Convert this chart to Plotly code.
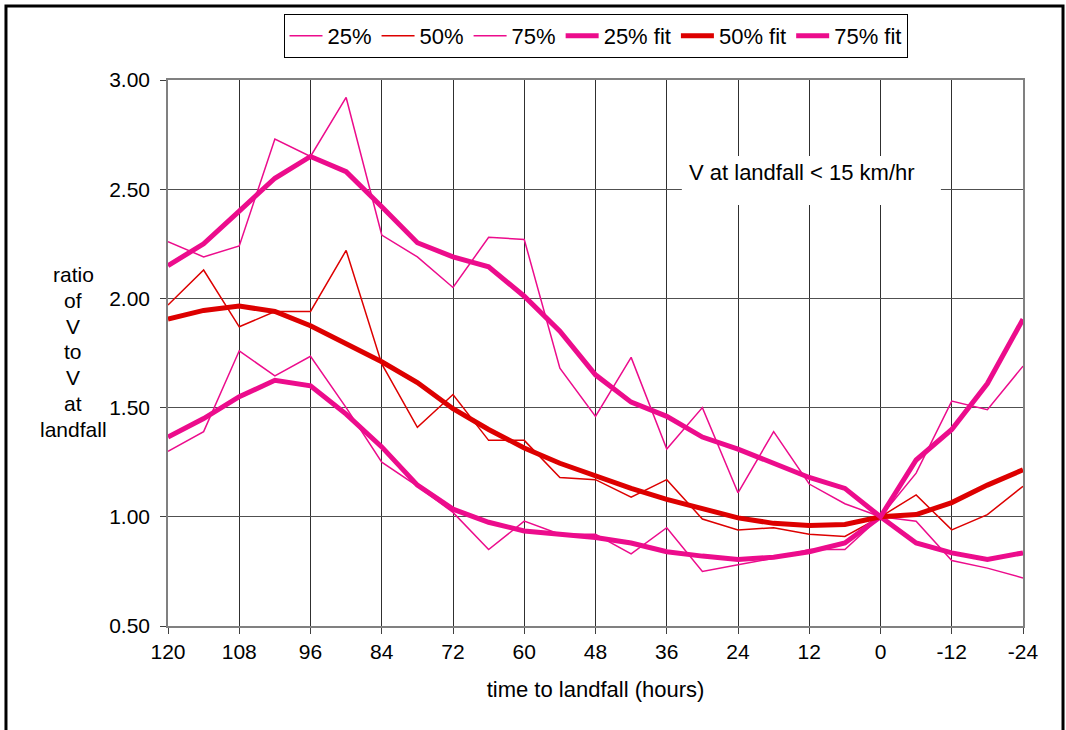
import plotly.graph_objects as go

# Hours before landfall (positive) and after (negative), every 6 hours
hours = [120, 114, 108, 102, 96, 90, 84, 78, 72, 66, 60, 54, 48, 42, 36,
         30, 24, 18, 12, 6, 0, -6, -12, -18, -24]

# Percentile ratios of V to V at landfall
p25 = [1.30, 1.39, 1.76, 1.645, 1.735, 1.50, 1.25, 1.14, 1.02, 0.85, 0.98, 0.92, 0.92,
       0.83, 0.95, 0.75, 0.78, 0.81, 0.85, 0.85, 1.00, 0.98, 0.80, 0.765, 0.72]
p50 = [1.97, 2.13, 1.87, 1.94, 1.94, 2.22, 1.70, 1.41, 1.56, 1.35, 1.35, 1.18, 1.17,
       1.09, 1.17, 0.99, 0.94, 0.95, 0.92, 0.91, 1.00, 1.10, 0.94, 1.01, 1.14]
p75 = [2.26, 2.19, 2.24, 2.73, 2.65, 2.92, 2.29, 2.19, 2.05, 2.28, 2.27, 1.68, 1.46,
       1.73, 1.31, 1.50, 1.11, 1.39, 1.15, 1.06, 1.00, 1.20, 1.53, 1.49, 1.69]

# Smoothed fits
f25 = [1.365, 1.45, 1.55, 1.625, 1.60, 1.47, 1.32, 1.145, 1.035, 0.975, 0.935, 0.92, 0.905,
       0.88, 0.84, 0.82, 0.805, 0.815, 0.84, 0.88, 1.00, 0.88, 0.835, 0.805, 0.835]
f50 = [1.905, 1.945, 1.965, 1.94, 1.875, 1.795, 1.71, 1.615, 1.495, 1.40, 1.315, 1.245, 1.185,
       1.13, 1.08, 1.035, 0.995, 0.97, 0.96, 0.965, 1.00, 1.01, 1.065, 1.145, 1.215]
f75 = [2.15, 2.25, 2.40, 2.55, 2.65, 2.58, 2.42, 2.255, 2.19, 2.145, 2.01, 1.85, 1.65,
       1.525, 1.46, 1.365, 1.31, 1.245, 1.18, 1.13, 1.00, 1.26, 1.40, 1.61, 1.905]

x_ticks = [120, 108, 96, 84, 72, 60, 48, 36, 24, 12, 0, -12, -24]
y_ticks = [0.5, 1.0, 1.5, 2.0, 2.5, 3.0]
y_title_lines = ["ratio", "of", "V", "to", "V", "at", "landfall"]

PINK = "#EC0C8C"
RED = "#DD0000"
FONT = "Liberation Sans, Arial, sans-serif"

series = [
    ("25%", p25, PINK, 1.5),
    ("50%", p50, RED, 1.5),
    ("75%", p75, PINK, 1.5),
    ("25% fit", f25, PINK, 5),
    ("50% fit", f50, RED, 5),
    ("75% fit", f75, PINK, 5),
]

fig = go.Figure()
for name, vals, color, width in series:
    fig.add_trace(go.Scatter(
        x=hours, y=vals, name=name, mode="lines",
        line=dict(color=color, width=width),
    ))

fig.update_layout(
    width=1066, height=730,
    margin=dict(l=168, r=43, t=80, b=104),
    paper_bgcolor="white", plot_bgcolor="white",
    font=dict(family=FONT, size=21, color="black"),
    showlegend=True,
    legend=dict(
        orientation="h", x=0.5, xanchor="center", y=1.121, yanchor="top",
        bordercolor="black", borderwidth=1, font=dict(size=22),
        itemwidth=33, tracegroupgap=0,
    ),
    xaxis=dict(
        range=[120, -24], tickvals=x_ticks, ticktext=[str(v) for v in x_ticks],
        showgrid=True, gridcolor="#303030", gridwidth=1,
        showline=True, linecolor="#808080", linewidth=1.5, mirror=True,
        ticks="outside", ticklen=6, tickcolor="#404040",
        zeroline=False,
        title=dict(text="time to landfall (hours)", font=dict(size=22), standoff=20),
    ),
    yaxis=dict(
        range=[0.5, 3.0], tickvals=y_ticks, tickformat=".2f",
        showgrid=True, gridcolor="#505050", gridwidth=1,
        showline=True, linecolor="#808080", linewidth=1.5, mirror=True,
        ticks="outside", ticklen=6, tickcolor="#404040",
        zeroline=False, ticklabelstandoff=6,
    ),
)

# White text box inside the plot, covering the grid
fig.add_shape(type="rect", xref="paper", yref="paper",
              x0=0.601, x1=0.904, y0=0.771, y1=0.861,
              fillcolor="white", line=dict(width=0), layer="above")
fig.add_annotation(xref="paper", yref="paper", x=0.742, y=0.8315,
                   text="V at landfall < 15 km/hr", showarrow=False,
                   font=dict(size=22), xanchor="center", yanchor="middle")

# Stacked, unrotated y-axis title
line_step = 25.8 / 546
y_mid = 0.502
n = len(y_title_lines)
for i, word in enumerate(y_title_lines):
    fig.add_annotation(xref="paper", yref="paper", x=-0.111,
                       y=y_mid + ((n - 1) / 2 - i) * line_step,
                       text=word, showarrow=False, font=dict(size=21),
                       xanchor="center", yanchor="middle")

# Outer chart frame
fig.add_shape(type="rect", xref="paper", yref="paper",
              x0=-0.1895, x1=1.0468, y0=-0.21, y1=1.1355,
              line=dict(color="black", width=3), fillcolor="rgba(0,0,0,0)",
              layer="above")

fig.write_html("out.html")
